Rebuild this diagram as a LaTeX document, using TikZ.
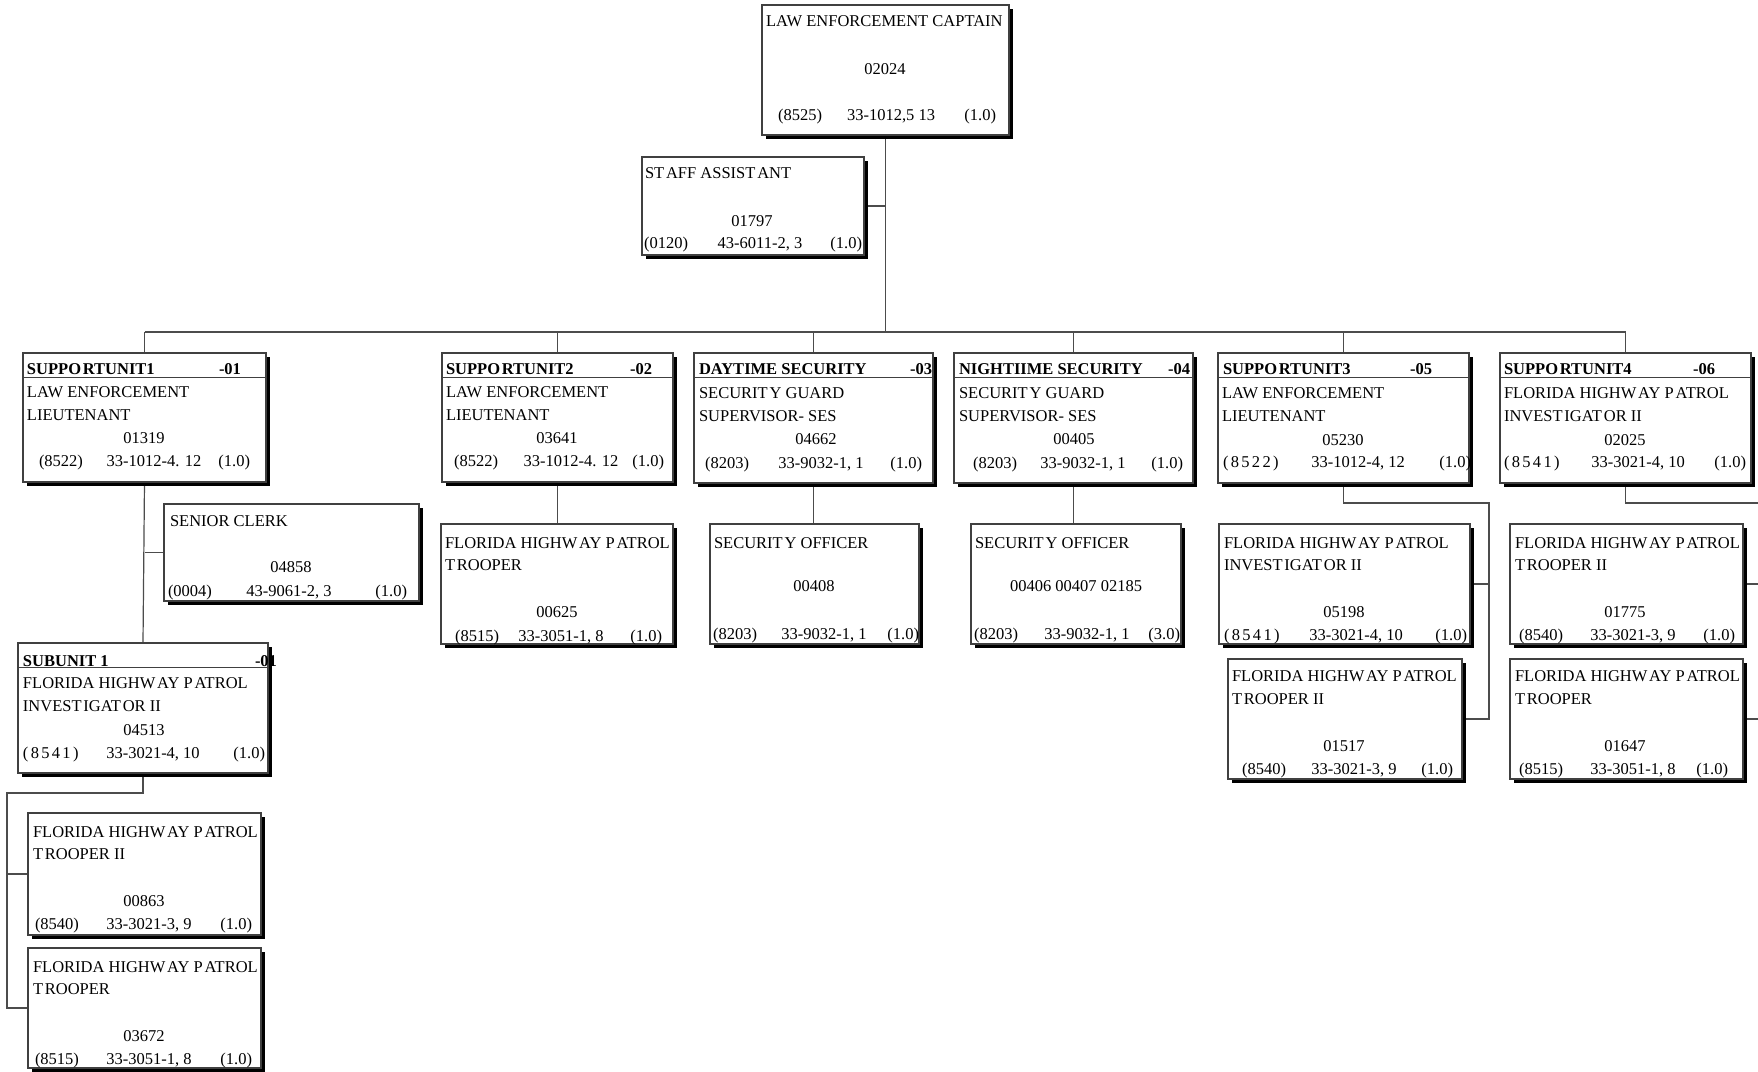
\documentclass[tikz,border=0pt]{standalone}
\usepackage{fontspec}
\setmainfont{Liberation Serif}
\usetikzlibrary{calc}

\definecolor{boxgray}{gray}{0.25}
\definecolor{linegray}{gray}{0.3}

\newcommand\fs{\fontsize{16.5}{19}\selectfont}
\newcommand\gp{\kern1.8pt}
\newcommand\spaced[1]{{\addfontfeature{LetterSpace=14}#1}}

\pgfdeclarelayer{paper}
\pgfdeclarelayer{bg}
\pgfsetlayers{paper,bg,main}

\tikzset{
  orgbox/.style={draw=boxgray,line width=1.2pt,fill=white,inner sep=0pt,outer sep=0pt},
  conn/.style={draw=linegray,line width=1.2pt},
  txt/.style={inner sep=0pt,outer sep=0pt,font=\fs,text height=12.5pt,text depth=2pt},
  hdr/.style={txt,font=\fs\bfseries},
  divider/.style={draw=boxgray,line width=1pt}
}

% box with a solid drop shadow: name, x1, y1, x2, y2
\newcommand\obox[5]{%
  \fill[black] (#2+4,#3+4) rectangle (#4+4,#5+4);
  \node[orgbox,minimum width={#4-#2},minimum height={#5-#3}] (#1) at ({(#2+#4)/2},{(#3+#5)/2}) {};}
% rule under the unit header
\newcommand\divline[1]{\draw[divider] ([yshift=-24pt]#1.north west) -- ([yshift=-24pt]#1.north east);}
% text pieces: name, x, y, text
\newcommand\txW[4]{\node[txt,anchor=west] (#1) at (#2,#3) {#4};}
\newcommand\txC[4]{\node[txt] (#1) at (#2,#3) {#4};}
\newcommand\txE[4]{\node[txt,anchor=east] (#1) at (#2,#3) {#4};}
\newcommand\hdW[4]{\node[hdr,anchor=west] (#1) at (#2,#3) {#4};}

\newcommand\fhp{FLORIDA HIGHW\gp AY P\gp ATROL}
\newcommand\invtwo{INVEST\gp IGAT\gp OR II}

\begin{document}
\begin{tikzpicture}[x=1pt,y=-1pt]
\useasboundingbox (0,0) rectangle (1758,1071);
\begin{pgfonlayer}{paper}
  \fill[white] (0,0) rectangle (1758,1071);
\end{pgfonlayer}

% ---- captain
\obox{cap}{762}{5}{1009}{135}
\txW{cap-a}{766}{21}{LAW ENFORCEMENT CAPTAIN}
\txC{cap-b}{885}{69}{02024}
\txW{cap-c}{778}{115}{(8525)}
\txC{cap-d}{891}{115}{33-1012,5 13}
\txE{cap-e}{996}{115}{(1.0)}

% ---- staff assistant
\obox{staff}{642}{157}{864}{255}
\txW{staff-a}{645}{173}{ST\gp AFF ASSIST\gp ANT}
\txC{staff-b}{752}{221}{01797}
\txW{staff-c}{644}{243}{(0120)}
\txC{staff-d}{760}{243}{43-6011-2, 3}
\txE{staff-e}{862}{243}{(1.0)}

% ---- support unit 1
\obox{su1}{23}{353}{266}{482}\divline{su1}
\hdW{su1-a}{27}{369}{SUPPO\gp RTUNIT1}
\hdW{su1-b}{219}{369}{-01}
\txW{su1-c}{27}{392}{LAW ENFORCEMENT}
\txW{su1-d}{27}{415}{LIEUTENANT}
\txC{su1-e}{144}{438}{01319}
\txW{su1-f}{39}{461}{(8522)}
\txC{su1-g}{154}{461}{33-1012-4. 12}
\txE{su1-h}{250}{461}{(1.0)}

% ---- support unit 2
\obox{su2}{442}{353}{673}{482}\divline{su2}
\hdW{su2-a}{446}{369}{SUPPO\gp RTUNIT2}
\hdW{su2-b}{630}{369}{-02}
\txW{su2-c}{446}{392}{LAW ENFORCEMENT}
\txW{su2-d}{446}{415}{LIEUTENANT}
\txC{su2-e}{557}{438}{03641}
\txW{su2-f}{454}{461}{(8522)}
\txC{su2-g}{571}{461}{33-1012-4. 12}
\txE{su2-h}{664}{461}{(1.0)}

% ---- daytime security
\obox{day}{694}{353}{933}{483}\divline{day}
\hdW{day-a}{699}{369}{DAYTIME SECURITY}
\hdW{day-b}{910}{369}{-03}
\txW{day-c}{699}{393}{SECURIT\gp Y GUARD}
\txW{day-d}{699}{416}{SUPERVISOR- SES}
\txC{day-e}{816}{439}{04662}
\txW{day-f}{705}{463}{(8203)}
\txC{day-g}{821}{463}{33-9032-1, 1}
\txE{day-h}{922}{463}{(1.0)}

% ---- nighttime security
\obox{night}{954}{353}{1193}{483}\divline{night}
\hdW{night-a}{959}{369}{NIGHTIIME SECURITY}
\hdW{night-b}{1168}{369}{-04}
\txW{night-c}{959}{393}{SECURIT\gp Y GUARD}
\txW{night-d}{959}{416}{SUPERVISOR- SES}
\txC{night-e}{1074}{439}{00405}
\txW{night-f}{973}{463}{(8203)}
\txC{night-g}{1083}{463}{33-9032-1, 1}
\txE{night-h}{1183}{463}{(1.0)}

% ---- support unit 3
\obox{su3}{1218}{353}{1469}{483}\divline{su3}
\hdW{su3-a}{1223}{369}{SUPPO\gp RTUNIT3}
\hdW{su3-b}{1410}{369}{-05}
\txW{su3-c}{1222}{393}{LAW ENFORCEMENT}
\txW{su3-d}{1222}{416}{LIEUTENANT}
\txC{su3-e}{1343}{440}{05230}
\txW{su3-f}{1223}{462}{\spaced{(8522)}}
\txC{su3-g}{1358}{462}{33-1012-4, 12}
\txE{su3-h}{1471}{462}{(1.0)}

% ---- support unit 4
\obox{su4}{1500}{353}{1751}{483}\divline{su4}
\hdW{su4-a}{1504}{369}{SUPPO\gp RTUNIT4}
\hdW{su4-b}{1693}{369}{-06}
\txW{su4-c}{1504}{393}{\fhp}
\txW{su4-d}{1504}{416}{\invtwo}
\txC{su4-e}{1625}{440}{02025}
\txW{su4-f}{1504}{462}{\spaced{(8541)}}
\txC{su4-g}{1638}{462}{33-3021-4, 10}
\txE{su4-h}{1746}{462}{(1.0)}

% ---- senior clerk
\obox{clerk}{164}{504}{419}{601}
\txW{clerk-a}{170}{521}{SENIOR CLERK}
\txC{clerk-b}{291}{567}{04858}
\txW{clerk-c}{168}{591}{(0004)}
\txC{clerk-d}{289}{591}{43-9061-2, 3}
\txE{clerk-e}{407}{591}{(1.0)}

% ---- subunit 1
\obox{sub1}{18}{643}{268}{773}\divline{sub1}
\hdW{sub1-a}{23}{661}{SUBUNIT 1}
\hdW{sub1-b}{255}{661}{-01}
\txW{sub1-c}{23}{683}{\fhp}
\txW{sub1-d}{23}{706}{\invtwo}
\txC{sub1-e}{144}{730}{04513}
\txW{sub1-f}{23}{753}{\spaced{(8541)}}
\txC{sub1-g}{153}{753}{33-3021-4, 10}
\txE{sub1-h}{265}{753}{(1.0)}

\obox{s1a}{28}{813}{261}{935}
\txW{s1a-a}{33}{832}{\fhp}
\txW{s1a-b}{33}{854}{T\gp ROOPER II}
\txC{s1a-c}{144}{901}{00863}
\txW{s1a-d}{35}{924}{(8540)}
\txC{s1a-e}{149}{924}{33-3021-3, 9}
\txE{s1a-f}{252}{924}{(1.0)}

\obox{s1b}{28}{948}{261}{1068}
\txW{s1b-a}{33}{967}{\fhp}
\txW{s1b-b}{33}{989}{T\gp ROOPER}
\txC{s1b-c}{144}{1036}{03672}
\txW{s1b-d}{35}{1059}{(8515)}
\txC{s1b-e}{149}{1059}{33-3051-1, 8}
\txE{s1b-f}{252}{1059}{(1.0)}

% ---- third row
\obox{s2a}{441}{524}{673}{644}
\txW{s2a-a}{445}{543}{\fhp}
\txW{s2a-b}{445}{565}{T\gp ROOPER}
\txC{s2a-c}{557}{612}{00625}
\txW{s2a-d}{455}{636}{(8515)}
\txC{s2a-e}{561}{636}{33-3051-1, 8}
\txE{s2a-f}{662}{636}{(1.0)}

\obox{dayc}{710}{524}{919}{644}
\txW{dayc-a}{714}{543}{SECURIT\gp Y OFFICER}
\txC{dayc-b}{814}{586}{00408}
\txW{dayc-c}{713}{634}{(8203)}
\txC{dayc-d}{824}{634}{33-9032-1, 1}
\txE{dayc-e}{919}{634}{(1.0)}

\obox{nightc}{971}{524}{1181}{644}
\txW{nightc-a}{975}{543}{SECURIT\gp Y OFFICER}
\txC{nightc-b}{1076}{586}{00406 00407 02185}
\txW{nightc-c}{974}{634}{(8203)}
\txC{nightc-d}{1087}{634}{33-9032-1, 1}
\txE{nightc-e}{1180}{634}{(3.0)}

\obox{s3a}{1219}{524}{1470}{644}
\txW{s3a-a}{1224}{543}{\fhp}
\txW{s3a-b}{1224}{565}{\invtwo}
\txC{s3a-c}{1344}{612}{05198}
\txW{s3a-d}{1224}{635}{\spaced{(8541)}}
\txC{s3a-e}{1356}{635}{33-3021-4, 10}
\txE{s3a-f}{1467}{635}{(1.0)}

\obox{s3b}{1228}{659}{1462}{779}
\txW{s3b-a}{1232}{676}{\fhp}
\txW{s3b-b}{1232}{699}{T\gp ROOPER II}
\txC{s3b-c}{1344}{746}{01517}
\txW{s3b-d}{1242}{769}{(8540)}
\txC{s3b-e}{1354}{769}{33-3021-3, 9}
\txE{s3b-f}{1453}{769}{(1.0)}

\obox{s4a}{1510}{524}{1743}{644}
\txW{s4a-a}{1515}{543}{\fhp}
\txW{s4a-b}{1515}{565}{T\gp ROOPER II}
\txC{s4a-c}{1625}{612}{01775}
\txW{s4a-d}{1519}{635}{(8540)}
\txC{s4a-e}{1633}{635}{33-3021-3, 9}
\txE{s4a-f}{1735}{635}{(1.0)}

\obox{s4b}{1510}{659}{1743}{779}
\txW{s4b-a}{1515}{676}{\fhp}
\txW{s4b-b}{1515}{699}{T\gp ROOPER}
\txC{s4b-c}{1625}{746}{01647}
\txW{s4b-d}{1519}{769}{(8515)}
\txC{s4b-e}{1633}{769}{33-3051-1, 8}
\txE{s4b-f}{1728}{769}{(1.0)}

% ---- connectors
\coordinate (bus) at (0,332);
\coordinate (b1) at (7,793);
\coordinate (b3) at (1489,503);
\coordinate (b4) at (1758,503);
\begin{pgfonlayer}{bg}
  \draw[conn] (cap.south) -- (cap.south |- bus);
  \draw[conn] (staff.east) -- (cap.south |- staff.east);
  \draw[conn] (su1.north |- bus) -- (su4.north |- bus);
  \foreach \u in {su1,su2,day,night,su3,su4}
    \draw[conn] (\u.north |- bus) -- (\u.north);
  \draw[conn] (su1.south) -- (sub1.north);
  \draw[conn] (su1.south |- clerk.west) -- (clerk.west);
  \draw[conn] (su2.south) -- (su2.south |- s2a.north);
  \draw[conn] (day.south) -- (day.south |- dayc.north);
  \draw[conn] (night.south) -- (night.south |- nightc.north);
  \draw[conn] (sub1.south) |- (b1) -- (b1 |- s1b.west) -- (s1b.west);
  \draw[conn] (b1 |- s1a.west) -- (s1a.west);
  \draw[conn] (su3.south) |- (b3) -- (b3 |- s3b.east) -- (s3b.east);
  \draw[conn] (s3a.east) -- (b3 |- s3a.east);
  \draw[conn] (su4.south) |- (b4);
  \draw[conn] (s4a.east) -- (b4 |- s4a.east);
  \draw[conn] (s4b.east) -- (b4 |- s4b.east);
\end{pgfonlayer}
\end{tikzpicture}
\end{document}
